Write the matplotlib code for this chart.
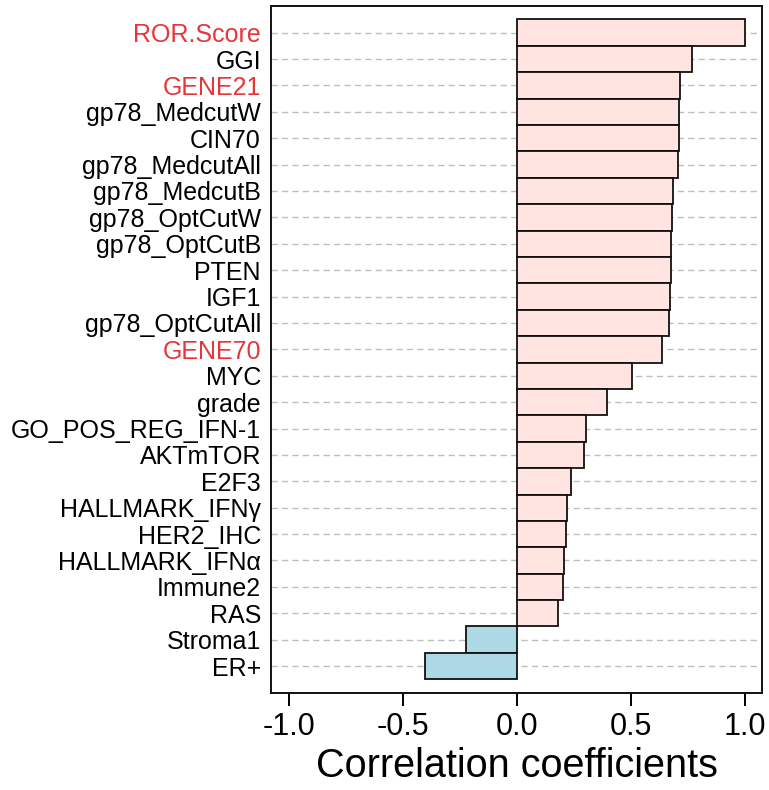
import matplotlib
matplotlib.use("Agg")
import matplotlib.pyplot as plt
import numpy as np

# Correlation of each signature / variable, ordered from top to bottom
labels = [
    "ROR.Score", "GGI", "GENE21", "gp78_MedcutW", "CIN70", "gp78_MedcutAll",
    "gp78_MedcutB", "gp78_OptCutW", "gp78_OptCutB", "PTEN", "IGF1",
    "gp78_OptCutAll", "GENE70", "MYC", "grade", "GO_POS_REG_IFN-1",
    "AKTmTOR", "E2F3", "HALLMARK_IFNγ", "HER2_IHC",
    "HALLMARK_IFNα", "Immune2", "RAS", "Stroma1", "ER+",
]
values = [
    1.00, 0.769, 0.717, 0.712, 0.713, 0.706,
    0.687, 0.681, 0.677, 0.677, 0.672,
    0.669, 0.637, 0.506, 0.397, 0.302,
    0.296, 0.236, 0.221, 0.218,
    0.207, 0.205, 0.182, -0.221, -0.401,
]
highlighted = ["ROR.Score", "GENE21", "GENE70"]

xticks = [-1.0, -0.5, 0.0, 0.5, 1.0]
xtick_labels = ["-1.0", "-0.5", "0.0", "0.5", "1.0"]

pos_color = "#FFE4E1"
neg_color = "#ADD8E6"
hl_color = "#E8353A"

plt.rcParams["font.family"] = ["Liberation Sans", "DejaVu Sans"]

fig = plt.figure(figsize=(7.69, 7.90), dpi=100)
ax = fig.add_axes([0.352, 0.1228, 0.9913 - 0.352, 0.9928 - 0.1228])

n = len(labels)
y = np.arange(n)

# dashed guide lines behind the bars
for yi in y:
    ax.axhline(yi, color="#BEBEBE", lw=1.0, linestyle=(0, (4.5, 3)), zorder=1)

colors = [pos_color if v >= 0 else neg_color for v in values]
ax.barh(y, values, height=1.0, color=colors, edgecolor="#111111",
        linewidth=1.3, zorder=2)

ax.set_ylim(n - 1 + 1.02, -1.02)
ax.set_xlim(-1.079, 1.077)

ax.set_yticks(y)
ax.set_yticklabels(labels, fontsize=18)
ax.tick_params(axis="y", length=0, pad=7)
for lab in ax.get_yticklabels():
    if lab.get_text() in highlighted:
        lab.set_color(hl_color)

ax.set_xticks(xticks)
ax.set_xticklabels(xtick_labels, fontsize=22)
ax.tick_params(axis="x", length=9.5, width=1.4, pad=4, direction="out")

for side in ["left", "right", "top", "bottom"]:
    ax.spines[side].set_linewidth(1.4)
    ax.spines[side].set_color("#111111")

ax.set_xlabel("Correlation coefficients", fontsize=28.5, labelpad=4)

fig.savefig("out.png", dpi=100)
